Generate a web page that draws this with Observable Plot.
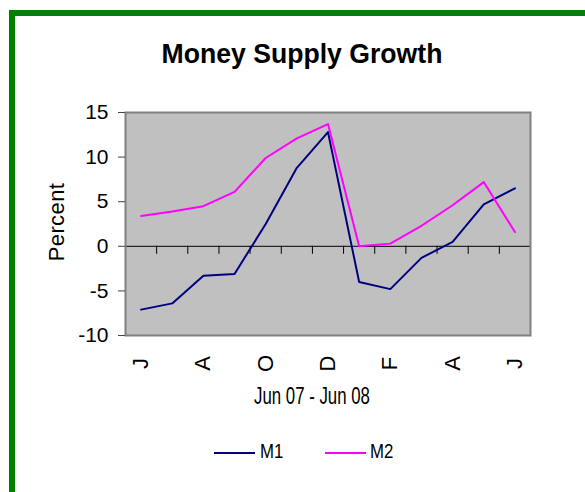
<!DOCTYPE html>
<html><head><meta charset="utf-8">
<script src="https://cdn.jsdelivr.net/npm/d3@7"></script>
<script src="https://cdn.jsdelivr.net/npm/@observablehq/plot@0.6"></script>
<style>
html,body{margin:0;padding:0;background:#fff;width:585px;height:492px;overflow:hidden;position:relative;font-family:"Liberation Sans",Arial,sans-serif;color:#000;}
#box{position:absolute;left:9px;top:10px;width:620px;height:540px;border:6px solid #008000;box-sizing:border-box;}
#title{position:absolute;left:2px;top:40px;width:600px;text-align:center;font-weight:bold;font-size:28px;line-height:28px;transform:scaleX(0.95);white-space:nowrap;}
#chart{position:absolute;left:0;top:85px;}
#ylabel{position:absolute;left:7px;top:209px;width:100px;height:26px;line-height:26px;font-size:22px;letter-spacing:0.4px;text-align:center;transform:rotate(-90deg);white-space:nowrap;}
#xlabel{position:absolute;left:212px;top:385px;width:200px;text-align:center;font-size:23px;line-height:23px;transform:scaleX(0.73);white-space:nowrap;}
.swatch{position:absolute;top:452px;width:41px;height:2px;}
.ltext{position:absolute;top:440px;font-size:21px;line-height:21px;transform:scaleX(0.8);transform-origin:left center;white-space:nowrap;}
</style>
</head><body>
<div id="box"></div>
<div id="title">Money Supply Growth</div>
<div id="chart"></div>
<div id="ylabel">Percent</div>
<div id="xlabel">Jun 07 - Jun 08</div>
<div id="legend"></div>
<script>
const months = ["Jun 07","Jul 07","Aug 07","Sep 07","Oct 07","Nov 07","Dec 07","Jan 08","Feb 08","Mar 08","Apr 08","May 08","Jun 08"];
const m1 = [-7.1, -6.4, -3.3, -3.1, 2.5, 8.8, 12.8, -4.0, -4.8, -1.3, 0.5, 4.7, 6.5];
const m2 = [3.4, 3.9, 4.5, 6.1, 9.9, 12.1, 13.7, 0.0, 0.3, 2.3, 4.6, 7.2, 1.6];
const tickLabels = ["J","A","O","D","F","A","J"];
const yTicks = [-10, -5, 0, 5, 10, 15];
const seriesNames = ["M1", "M2"];
const seriesColors = ["#000080", "#ff00ff"];

const rows = [];
months.forEach((m, i) => {
  rows.push({i, month: m, series: "M1", value: m1[i]});
  rows.push({i, month: m, series: "M2", value: m2[i]});
});
const boundaries = months.map((m, i) => i + 0.5);
const labelIdx = months.map((m, i) => i).filter(i => i % 2 === 0);

const plot = Plot.plot({
  width: 585,
  height: 300,
  marginLeft: 125,
  marginRight: 55,
  marginTop: 27,
  marginBottom: 50,
  style: {fontFamily: '"Liberation Sans",Arial,sans-serif', fontSize: "21px", color: "#000", background: "transparent", overflow: "visible"},
  x: {type: "linear", domain: [-0.5, months.length - 0.5]},
  y: {domain: [-10, 15]},
  color: {domain: seriesNames, range: seriesColors},
  marks: [
    Plot.frame({fill: "#c0c0c0", stroke: null}),
    Plot.ruleY([0], {stroke: "#000", strokeWidth: 1}),
    Plot.ruleX(boundaries, {x: d => d, y1: 0, y2: 0, insetBottom: -8, stroke: "#000", strokeWidth: 1}),
    Plot.line(rows, {x: "i", y: "value", z: "series", stroke: "series", strokeWidth: 2}),
    Plot.frame({stroke: "#808080", strokeWidth: 2}),
    Plot.axisY({ticks: yTicks, tickSize: 7, tickPadding: 10, stroke: "#444", label: null, fontSize: 21, tickFormat: d => String(d)}),
    Plot.axisX({ticks: labelIdx, tickFormat: d => tickLabels[d / 2], tickSize: 0, tickPadding: 28, tickRotate: -90, textAnchor: "middle", label: null, fontSize: 22})
  ]
});
document.getElementById("chart").appendChild(plot);

const legend = document.getElementById("legend");
const lineLefts = [214, 325];
const textLefts = [260, 370];
seriesNames.forEach((name, k) => {
  const sw = document.createElement("div");
  sw.className = "swatch";
  sw.style.left = lineLefts[k] + "px";
  sw.style.background = seriesColors[k];
  const tx = document.createElement("div");
  tx.className = "ltext";
  tx.style.left = textLefts[k] + "px";
  tx.textContent = name;
  legend.appendChild(sw);
  legend.appendChild(tx);
});
</script>
</body></html>
